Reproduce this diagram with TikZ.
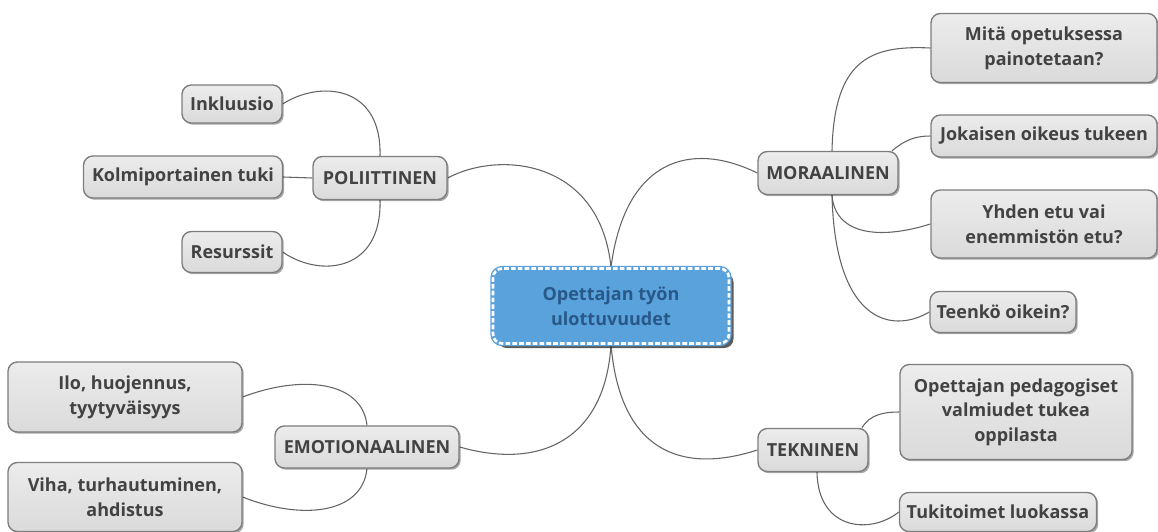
\documentclass[tikz,border=0pt]{standalone}
\usepackage{fontspec}
\setmainfont{Open Sans}
\usetikzlibrary{shadows,backgrounds}

\definecolor{boxtop}{RGB}{236,236,236}
\definecolor{boxbottom}{RGB}{218,218,218}
\definecolor{boxline}{RGB}{125,125,125}
\definecolor{boxtext}{RGB}{66,66,66}
\definecolor{linkgray}{RGB}{100,100,100}
\definecolor{rootblue}{RGB}{90,162,220}
\definecolor{roottext}{RGB}{40,88,136}

\tikzset{every picture/.style={line width=0.75pt}}
\tikzset{
  topic/.style={rounded corners=7pt, draw=boxline, line width=1pt,
    top color=boxtop, bottom color=boxbottom,
    text=boxtext, font=\bfseries\fontsize{13.5}{18.5}\selectfont, align=center, inner sep=0pt,
    drop shadow={shadow xshift=1.3pt, shadow yshift=-1.3pt, fill=black, opacity=0.35}},
  rootbox/.style={rounded corners=7pt, fill=rootblue, text=roottext,
    font=\bfseries\fontsize{13.5}{18.5}\selectfont, align=center, inner sep=0pt,
    drop shadow={shadow xshift=3.4pt, shadow yshift=-3.4pt, fill=black!85, opacity=0.75},
    preaction={draw=rootblue, line width=4pt, solid},
    draw=white, line width=2pt, dash pattern=on 3.5pt off 1.6pt},
  boxsize/.style 2 args={minimum width=#1*0.75pt, minimum height=#2*0.75pt},
  link/.style={draw=linkgray, line width=0.8pt}
}

\begin{document}
\begin{tikzpicture}[x=0.75pt,y=0.75pt,yscale=-1,xscale=1]
  \useasboundingbox (0,0) rectangle (1158,532);

  % centre
  \node[rootbox, boxsize={236}{75}] (root) at (611,306) {Opettajan työn\\ulottuvuudet};

  % main branches
  \node[topic, boxsize={134}{43}] (pol) at (380,178) {POLIITTINEN};
  \node[topic, boxsize={140}{43}] (mor) at (828,173) {MORAALINEN};
  \node[topic, boxsize={184}{42}] (emo) at (367,447) {EMOTIONAALINEN};
  \node[topic, boxsize={110}{43}] (tek) at (813,450) {TEKNINEN};

  % POLIITTINEN leaves
  \node[topic, boxsize={100}{38}] (ink) at (232,104) {Inkluusio};
  \node[topic, boxsize={199}{42}] (kol) at (183,177) {Kolmiportainen tuki};
  \node[topic, boxsize={100}{41}] (res) at (232,252) {Resurssit};

  % MORAALINEN leaves
  \node[topic, boxsize={226}{69}] (mit) at (1044,48) {Mitä opetuksessa\\painotetaan?};
  \node[topic, boxsize={226}{42}] (jok) at (1044,136) {Jokaisen oikeus tukeen};
  \node[topic, boxsize={226}{68}] (yhd) at (1044,224) {Yhden etu vai\\enemmistön etu?};
  \node[topic, boxsize={146}{41}] (tee) at (1003,312) {Teenkö oikein?};

  % EMOTIONAALINEN leaves
  \node[topic, boxsize={234}{70}] (ilo) at (125,397) {Ilo, huojennus,\\tyytyväisyys};
  \node[topic, boxsize={234}{69}] (vih) at (125,497) {Viha, turhautuminen,\\ahdistus};

  % TEKNINEN leaves
  \node[topic, boxsize={232}{95}] (ope) at (1016,412) {Opettajan pedagogiset\\valmiudet tukea\\oppilasta};
  \node[topic, boxsize={197}{39}] (tuk) at (998,512) {Tukitoimet luokassa};

  % connectors
  \begin{scope}[on background layer]
    \draw[link] (root.north) .. controls (600,160) and (500,150) .. (pol.east);
    \draw[link] (root.north) .. controls (625,160) and (690,140) .. (mor.west);
    \draw[link] (root.south) .. controls (605,440) and (540,470) .. (emo.east);
    \draw[link] (root.south) .. controls (620,450) and (680,475) .. (tek.west);

    \draw[link] (pol.north) .. controls (382,85) and (320,80) .. (ink.east);
    \draw[link] (pol.west) -- (kol.east);
    \draw[link] (pol.south) .. controls (382,272) and (320,278) .. (res.east);

    \draw[link] ([xshift=3pt]mor.north) .. controls (834,60) and (870,45) .. (mit.west);
    \draw[link] ([xshift=-5pt]mor.north east) .. controls (905,140) and (915,136) .. (jok.west);
    \draw[link] ([xshift=3pt]mor.south) .. controls (835,235) and (880,240) .. (yhd.west);
    \draw[link] ([xshift=3pt]mor.south) .. controls (835,320) and (890,335) .. (tee.west);

    \draw[link] (emo.north) .. controls (362,380) and (300,375) .. (ilo.east);
    \draw[link] (emo.south) .. controls (362,515) and (300,520) .. (vih.east);

    \draw[link] ([xshift=-5pt]tek.north east) .. controls (870,414) and (885,412) .. (ope.west);
    \draw[link] ([xshift=3pt]tek.south) .. controls (818,530) and (870,535) .. (tuk.west);
  \end{scope}
\end{tikzpicture}
\end{document}
